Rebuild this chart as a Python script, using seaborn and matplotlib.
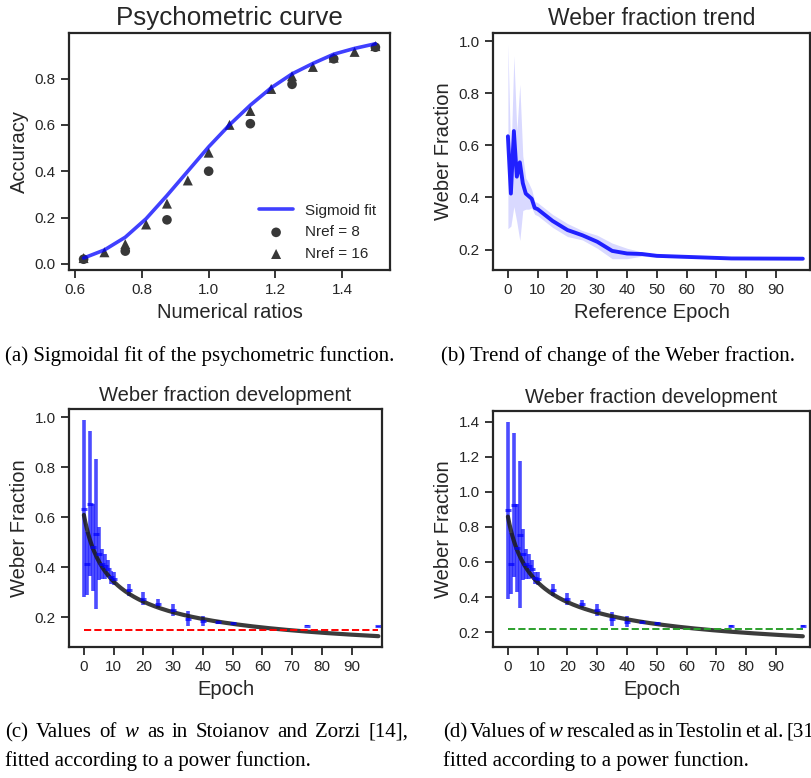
import numpy as np
import pandas as pd
import matplotlib
matplotlib.use("Agg")
import matplotlib.pyplot as plt
import seaborn as sns

# ---------------- data ----------------
ratios16 = [0.625, 0.6875, 0.75, 0.8125, 0.875, 0.9375, 1.0, 1.0625, 1.125,
            1.1875, 1.25, 1.3125, 1.375, 1.4375, 1.5]
acc16 = [0.025, 0.05, 0.085, 0.17, 0.26, 0.36, 0.48, 0.60, 0.66, 0.755, 0.81,
         0.85, 0.89, 0.915, 0.94]
ratios8 = [0.625, 0.75, 0.875, 1.0, 1.125, 1.25, 1.375, 1.5]
acc8 = [0.02, 0.055, 0.19, 0.40, 0.605, 0.775, 0.885, 0.935]
sigmoid_fit = [0.025, 0.06, 0.115, 0.195, 0.295, 0.40, 0.505, 0.60, 0.685,
               0.76, 0.82, 0.865, 0.905, 0.93, 0.95]

epochs = [0, 1, 2, 3, 4, 5, 6, 7, 8, 9, 10, 15, 20, 25, 30, 35, 40, 45, 50, 75, 99]
weber = [0.635, 0.415, 0.655, 0.48, 0.535, 0.455, 0.415, 0.405, 0.395, 0.36,
         0.355, 0.31, 0.275, 0.255, 0.23, 0.195, 0.185, 0.183, 0.176, 0.166, 0.165]
weber_sd = [0.355, 0.125, 0.29, 0.175, 0.30, 0.105, 0.06, 0.05, 0.035, 0.025,
            0.025, 0.025, 0.025, 0.018, 0.025, 0.03, 0.02, 0.008, 0.006, 0.002, 0.002]
weber_rs = [0.895, 0.59, 0.925, 0.68, 0.755, 0.645, 0.59, 0.575, 0.56, 0.51,
            0.505, 0.44, 0.39, 0.36, 0.325, 0.275, 0.26, 0.26, 0.25, 0.235, 0.235]
weber_rs_sd = [0.505, 0.175, 0.41, 0.25, 0.42, 0.145, 0.085, 0.07, 0.05, 0.035,
               0.035, 0.035, 0.035, 0.025, 0.035, 0.04, 0.03, 0.01, 0.01, 0.004, 0.004]
# power-function fit parameters y = a * (x + x0) ** (-k)
fit_c = (1.413, 5.0, 0.522)
fit_d = (1.99, 5.0, 0.522)
ref_c = 0.15
ref_d = 0.22
xticks_epoch = [0, 10, 20, 30, 40, 50, 60, 70, 80, 90]

# ---------------- style ----------------
sns.set_theme(style="ticks")
plt.rcParams["font.family"] = ["Liberation Sans", "DejaVu Sans"]
plt.rcParams["mathtext.fontset"] = "custom"
plt.rcParams["mathtext.it"] = "Liberation Serif:italic"
plt.rcParams["mathtext.rm"] = "Liberation Serif"
plt.rcParams["axes.linewidth"] = 1.6
plt.rcParams["xtick.major.width"] = 1.3
plt.rcParams["ytick.major.width"] = 1.3
plt.rcParams["xtick.major.size"] = 6
plt.rcParams["ytick.major.size"] = 6

W, H = 811, 778
fig = plt.figure(figsize=(W / 100, H / 100), dpi=100)


def add_ax(x0, y0, x1, y1):
    return fig.add_axes([x0 / W, 1 - y1 / H, (x1 - x0) / W, (y1 - y0) / H])


TICK = 11
LAB = 14.5

# ---- (a) psychometric curve ----
ax = add_ax(69, 33, 390, 270)
df16 = pd.DataFrame({"r": ratios16, "acc": acc16, "fit": sigmoid_fit})
df8 = pd.DataFrame({"r": ratios8, "acc": acc8})
sns.lineplot(data=df16, x="r", y="fit", ax=ax, color="blue", alpha=0.75, lw=2.6,
             label="Sigmoid fit")
sns.scatterplot(data=df8, x="r", y="acc", ax=ax, color="0.22", marker="o", s=48,
                edgecolor="none", label="Nref = 8")
sns.scatterplot(data=df16, x="r", y="acc", ax=ax, color="0.22", marker="^", s=52,
                edgecolor="none", label="Nref = 16")
ax.set_xticks([0.6, 0.8, 1.0, 1.2, 1.4])
ax.set_yticks([0.0, 0.2, 0.4, 0.6, 0.8])
ax.set_xlabel("Numerical ratios", fontsize=LAB)
ax.set_ylabel("Accuracy", fontsize=LAB)
ax.set_title("Psychometric curve", fontsize=18.7)
ax.tick_params(labelsize=TICK)
ax.legend(loc="lower right", frameon=False, fontsize=11, bbox_to_anchor=(1.0, -0.02),
          handlelength=2.2)

# ---- (b) weber fraction trend ----
ax = add_ax(493, 33, 810, 270)
w = np.array(weber)
sd = np.array(weber_sd)
dfb = pd.DataFrame({"e": epochs, "w": weber})
ax.fill_between(epochs, w - sd, w + sd, color="blue", alpha=0.15, lw=0)
sns.lineplot(data=dfb, x="e", y="w", ax=ax, color="blue", alpha=0.85, lw=2.8)
ax.set_xlim(-5, 101.4)
ax.set_xticks(xticks_epoch)
ax.set_yticks([0.2, 0.4, 0.6, 0.8, 1.0])
ax.set_xlabel("Reference Epoch", fontsize=LAB)
ax.set_ylabel("Weber Fraction", fontsize=LAB)
ax.set_title("Weber fraction trend", fontsize=16.5)
ax.tick_params(labelsize=TICK)


def weber_panel(ax, vals, sds, fit, ref, refcolor, xlim_r):
    xs = np.linspace(0, 99, 200)
    a, x0, k = fit
    ax.errorbar(epochs, vals, yerr=sds, fmt="_", color="blue", alpha=0.7,
                elinewidth=2.6, ms=5, mew=2.2, capsize=0)
    sns.lineplot(x=xs, y=a * (xs + x0) ** (-k), ax=ax, color="0.1", alpha=0.85, lw=3)
    ax.plot([0, 99], [ref, ref], ls="--", color=refcolor, lw=1.4)
    ax.set_xlim(-5, xlim_r)
    ax.set_xticks(xticks_epoch)
    ax.set_xlabel("Epoch", fontsize=LAB)
    ax.set_ylabel("Weber Fraction", fontsize=LAB)
    ax.set_title("Weber fraction development", fontsize=14.5)
    ax.tick_params(labelsize=TICK)


ax = add_ax(69, 409, 382, 647)
weber_panel(ax, weber, weber_sd, fit_c, ref_c, "red", 100.2)
ax.set_yticks([0.2, 0.4, 0.6, 0.8, 1.0])

ax = add_ax(493, 411, 810, 647)
weber_panel(ax, weber_rs, weber_rs_sd, fit_d, ref_d, "#2ca02c", 101.4)
ax.set_yticks([0.2, 0.4, 0.6, 0.8, 1.0, 1.2, 1.4])

# ---------------- captions ----------------
CAP = dict(fontsize=15, family=["Liberation Serif", "DejaVu Serif"], color="black",
           va="baseline")
renderer = fig.canvas.get_renderer()


def justified(words, x_left, x_right, y):
    texts = [fig.text(0, 1 - y / H, wd, **CAP) for wd in words]
    widths = [t.get_window_extent(renderer).width for t in texts]
    gap = (x_right - x_left - sum(widths)) / (len(words) - 1)
    x = x_left
    for t, wd in zip(texts, widths):
        t.set_x(x / W)
        x += wd + gap


fig.text(5 / W, 1 - 361 / H, "(a) Sigmoidal fit of the psychometric function.", **CAP)
fig.text(441 / W, 1 - 361 / H, "(b) Trend of change of the Weber fraction.", **CAP)
justified("(c) Values of $w$ as in Stoianov and Zorzi [14],".split(" "), 5, 408, 737)
fig.text(5 / W, 1 - 766 / H, "fitted according to a power function.", **CAP)
justified("(d) Values of $w$ rescaled as in Testolin et al. [31],".split(" "), 443, 826, 737)
fig.text(443 / W, 1 - 766 / H, "fitted according to a power function.", **CAP)

fig.savefig("out.png", dpi=100)
